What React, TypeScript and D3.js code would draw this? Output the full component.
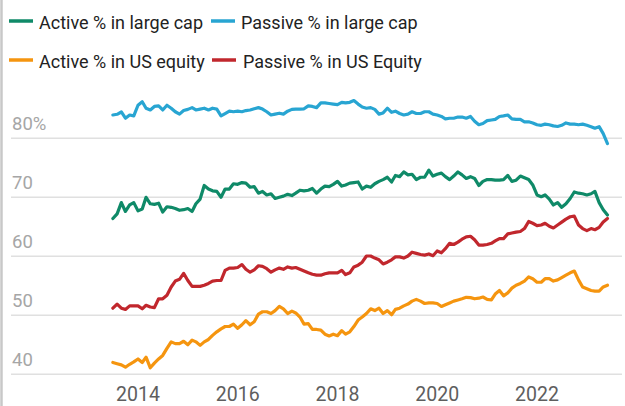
import React from "react";
import * as d3 from "d3";

const START_MONTH = "2013-07-01";
const xTickYears = [2014, 2016, 2018, 2020, 2022];
const yTicks = [40, 50, 60, 70, 80];
const yTickLabels = ["40", "50", "60", "70", "80%"];

const seriesNames = [
  "Active % in large cap",
  "Passive % in large cap",
  "Active % in US equity",
  "Passive % in US Equity",
];

const activeLargeCap = [
  66.4, 67.2, 69.1, 67.6, 68.7, 69.1, 67.7, 68.0, 70.0, 68.9, 68.8, 69.0, 67.5, 68.4, 68.3, 68.1, 67.8, 67.9, 68.1, 67.6,
  68.9, 69.7, 72.0, 71.4, 71.1, 71.0, 70.0, 71.4, 71.4, 72.3, 72.2, 72.5, 72.4, 71.7, 71.8, 70.7, 71.0, 70.4, 70.6, 69.8,
  70.0, 70.2, 70.5, 70.3, 70.7, 71.2, 71.1, 71.2, 71.5, 70.7, 71.4, 71.9, 71.8, 72.2, 72.7, 71.9, 72.1, 72.4, 72.5, 72.6,
  71.4, 71.9, 71.7, 72.3, 72.7, 73.0, 73.4, 72.6, 73.7, 73.5, 74.3, 73.8, 73.9, 73.0, 73.4, 73.4, 74.6, 73.6, 73.9, 74.1,
  73.5, 73.0, 73.6, 74.3, 73.8, 73.2, 73.5, 73.2, 72.0, 72.7, 73.0, 73.0, 72.9, 72.9, 73.0, 73.7, 72.7, 72.9, 73.6, 73.3,
  73.0, 72.1, 70.4, 70.1, 70.4, 69.7, 68.7, 69.1, 68.3, 68.9, 69.8, 70.9, 70.7, 70.6, 70.4, 70.6, 71.0, 69.1, 67.9, 67.0,
];

const passiveLargeCap = [
  83.95, 84.07, 84.46, 83.4, 83.95, 83.8, 85.6, 86.2, 85.1, 84.8, 85.4, 85.5, 84.8, 85.6, 85.1, 84.5, 84.1, 84.7, 84.9, 85.2,
  84.8, 84.95, 85.1, 84.8, 85.1, 84.95, 83.8, 84.2, 84.6, 84.5, 84.6, 84.5, 84.7, 84.8, 85.0, 85.2, 84.95, 84.5, 83.95, 84.1,
  84.25, 84.1, 84.6, 84.9, 84.95, 84.95, 85.0, 85.5, 85.4, 85.2, 86.0, 86.0, 85.9, 85.8, 85.7, 86.1, 86.0, 86.1, 86.4, 85.8,
  85.3, 85.1, 85.2, 84.9, 84.1, 84.3, 85.1, 84.4, 84.6, 84.2, 83.95, 84.1, 84.5, 84.2, 84.2, 84.5, 84.5, 84.1, 83.95, 83.7,
  83.3, 83.4, 83.4, 83.6, 83.6, 83.4, 83.7, 82.9, 82.3, 82.5, 83.0, 83.1, 83.2, 83.7, 83.8, 83.95, 83.3, 83.2, 83.2, 82.8,
  82.8, 82.6, 82.3, 82.2, 82.4, 82.3, 82.1, 82.0, 82.2, 82.6, 82.4, 82.4, 82.3, 82.4, 82.2, 81.97, 81.7, 81.97, 80.8, 79.1,
];

const activeUSEquity = [
  42.0, 41.8, 41.6, 41.2, 41.7, 42.1, 42.6, 42.0, 42.9, 41.1, 41.9, 42.6, 43.2, 44.4, 45.5, 45.2, 45.2, 45.6, 45.0, 45.8,
  45.5, 44.9, 45.5, 45.9, 46.6, 47.2, 47.7, 48.1, 48.1, 48.5, 47.8, 48.4, 49.1, 48.4, 48.9, 50.2, 50.6, 50.6, 50.3, 50.8,
  51.5, 51.1, 50.3, 50.7, 50.4, 49.7, 48.5, 48.6, 47.6, 47.6, 47.5, 46.8, 46.5, 46.8, 46.55, 47.4, 46.8, 47.2, 48.1, 49.2,
  49.7, 50.3, 51.1, 50.8, 51.2, 50.3, 50.8, 50.1, 51.0, 51.2, 51.6, 51.9, 52.4, 52.7, 52.4, 52.0, 52.1, 52.1, 52.0, 51.5,
  51.8, 52.1, 52.4, 52.6, 52.8, 53.05, 53.0, 52.8, 52.9, 53.1, 52.7, 52.6, 53.6, 54.2, 53.3, 53.8, 54.6, 55.1, 55.4, 55.8,
  56.5, 56.2, 55.6, 55.6, 56.2, 56.2, 55.8, 56.0, 56.4, 56.8, 57.2, 57.5, 56.0, 54.8, 54.5, 54.2, 54.1, 54.1, 54.8, 55.1,
];

const passiveUSEquity = [
  51.2, 51.9, 51.2, 51.0, 51.6, 51.6, 51.6, 51.1, 51.7, 51.4, 51.3, 52.8, 52.8, 53.4, 54.8, 55.8, 56.1, 57.1, 55.9, 54.9,
  54.9, 54.9, 55.1, 55.4, 55.8, 55.9, 55.9, 57.6, 58.0, 58.0, 58.1, 58.6, 57.8, 57.3, 57.7, 58.4, 58.3, 57.9, 57.3, 57.7,
  58.0, 57.8, 58.2, 58.0, 58.1, 57.8, 57.5, 57.2, 56.95, 56.8, 56.8, 57.05, 57.2, 57.2, 57.2, 57.6, 56.9, 57.2, 58.2, 58.5,
  59.0, 60.05, 60.05, 59.7, 59.4, 58.7, 59.0, 59.4, 59.9, 59.9, 59.7, 60.05, 60.7, 60.5, 60.3, 60.2, 60.4, 60.1, 60.9, 60.6,
  61.3, 62.2, 62.0, 62.4, 62.9, 63.3, 63.4, 62.8, 61.9, 61.9, 62.0, 62.2, 62.6, 63.0, 63.0, 63.8, 63.95, 64.1, 64.2, 64.7,
  65.9, 65.6, 65.2, 65.3, 65.6, 65.1, 64.8, 65.3, 65.8, 66.3, 66.7, 66.8, 65.3, 64.7, 64.35, 64.7, 64.5, 64.9, 65.8, 66.4,
];

const colors = ["#0f8a68", "#28a5d2", "#f5950f", "#c1272d"];

const W = 625;
const H = 406;

export default function App() {
  const start = new Date(START_MONTH + "T00:00:00");
  const dates = activeLargeCap.map((_, i) => d3.timeMonth.offset(start, i));

  const x = d3
    .scaleTime()
    .domain([new Date(2014, 0, 1), new Date(2022, 0, 1)])
    .range([138, 537]);
  const y = d3.scaleLinear().domain([40, 80]).range([374.3, 138.3]);

  const all = [activeLargeCap, passiveLargeCap, activeUSEquity, passiveUSEquity];
  const line = d3
    .line<number>()
    .x((_, i) => x(dates[i]))
    .y((v) => y(v));

  const drawOrder = [3, 2, 1, 0];

  const legend = [
    { idx: 0, sx: 9, tx: 39, ty: 29 },
    { idx: 1, sx: 211, tx: 241, ty: 29 },
    { idx: 2, sx: 9, tx: 39, ty: 68 },
    { idx: 3, sx: 212, tx: 243, ty: 68 },
  ];

  return (
    <svg
      width={W}
      height={H}
      style={{ position: "absolute", left: 0, top: 0, background: "#fff" }}
      fontFamily="Roboto, 'Noto Sans', sans-serif"
    >
      <rect x={0} y={0} width={W} height={H} fill="#fff" />
      <line x1={1.5} x2={1.5} y1={0} y2={H} stroke="#c8c8c8" strokeWidth={2.5} />

      {legend.map((l) => (
        <g key={l.idx}>
          <line
            x1={l.sx}
            x2={l.sx + 24}
            y1={l.ty - 8}
            y2={l.ty - 8}
            stroke={colors[l.idx]}
            strokeWidth={3.5}
          />
          <text x={l.tx} y={l.ty} fontSize={18} fill="#222">
            {seriesNames[l.idx]}
          </text>
        </g>
      ))}

      {yTicks.map((t, i) => (
        <g key={t}>
          <line x1={11} x2={622} y1={y(t)} y2={y(t)} stroke="#e0e0e0" strokeWidth={1.5} />
          <text x={12} y={y(t) - 8} fontSize={18.5} fill="#a6a6a6">
            {yTickLabels[i]}
          </text>
        </g>
      ))}

      {xTickYears.map((yr) => (
        <text
          key={yr}
          x={x(new Date(yr, 0, 1))}
          y={401}
          fontSize={19.5}
          fill="#5e5e5e"
          textAnchor="middle"
        >
          {yr}
        </text>
      ))}

      {drawOrder.map((k) => (
        <path
          key={k}
          d={line(all[k]) || ""}
          fill="none"
          stroke={colors[k]}
          strokeWidth={3.2}
          strokeLinejoin="round"
          strokeLinecap="round"
        />
      ))}
    </svg>
  );
}
